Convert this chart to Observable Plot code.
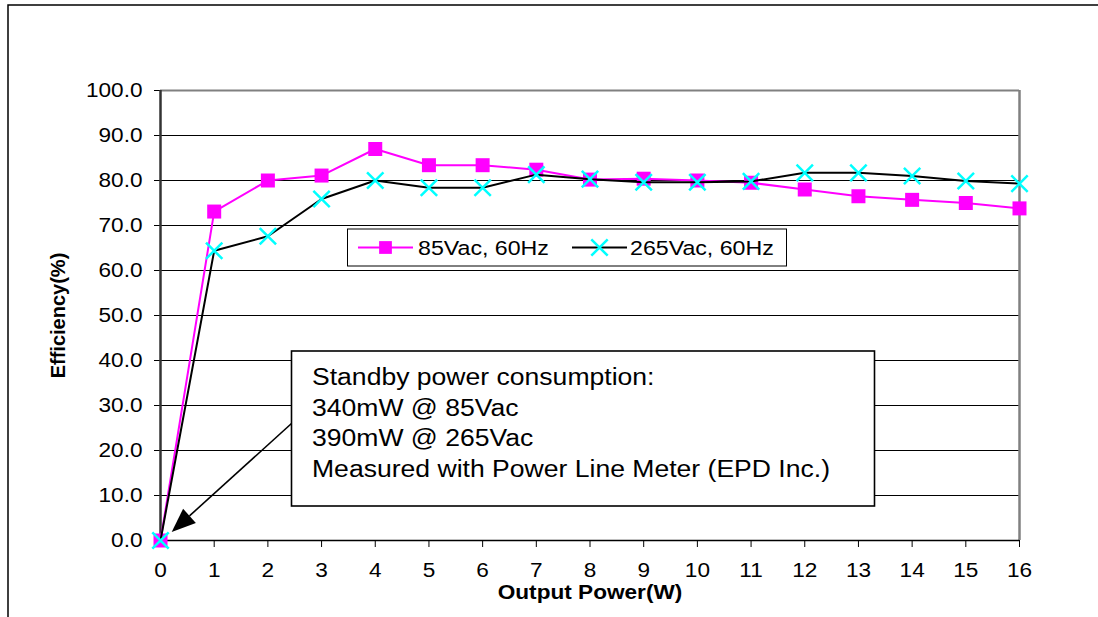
<!DOCTYPE html>
<html><head><meta charset="utf-8">
<script src="https://cdn.jsdelivr.net/npm/d3@7"></script>
<script src="https://cdn.jsdelivr.net/npm/@observablehq/plot@0.6"></script>
<style>
html,body{margin:0;padding:0;background:#fff;overflow:hidden;}
#chart{position:relative;width:1098px;height:617px;}
</style></head><body><div id="chart"></div>
<script>
// ---- data ----
const power = [0,1,2,3,4,5,6,7,8,9,10,11,12,13,14,15,16];
const eff85 = [0,73.1,80.0,81.1,87.0,83.4,83.4,82.4,80.2,80.4,80.0,79.5,78.0,76.5,75.7,75.0,73.8];
const eff265 = [0,64.4,67.6,75.9,80.0,78.4,78.4,81.3,80.3,79.6,79.6,79.8,81.7,81.7,81.0,79.9,79.3];
const yTicks = [0,10,20,30,40,50,60,70,80,90,100];
const xTicks = [0,1,2,3,4,5,6,7,8,9,10,11,12,13,14,15,16];
const seriesNames = ["85Vac, 60Hz", "265Vac, 60Hz"];
const annotationLines = ["Standby power consumption:", "340mW @ 85Vac", "390mW @ 265Vac", "Measured with Power Line Meter (EPD Inc.)"];
const xTitle = "Output Power(W)";
const yTitle = "Efficiency(%)";

const FONT = '"Liberation Sans", Arial, Helvetica, sans-serif';
const MAGENTA = "#FF00FF", CYAN = "#00FFFF";
const d85 = power.map((p, i) => ({p, e: eff85[i]}));
const d265 = power.map((p, i) => ({p, e: eff265[i]}));

const chart = Plot.plot({
  width: 1098, height: 617,
  marginLeft: 160, marginRight: 79, marginTop: 90, marginBottom: 77,
  style: {fontFamily: FONT, fontSize: "20px", color: "#000", background: "#fff", overflow: "visible"},
  x: {domain: [0, 16]},
  y: {domain: [0, 100]},
  marks: [
    Plot.ruleY(yTicks.filter(v => v > 0 && v < 100), {stroke: "#000", strokeWidth: 1}),
    Plot.ruleY([100], {stroke: "#808080", strokeWidth: 2}),
    Plot.ruleX([16], {stroke: "#808080", strokeWidth: 2.5}),
    Plot.axisY({ticks: yTicks, tickFormat: d3.format(".1f"), tickSize: 6, tickPadding: 12, label: null}),
    Plot.axisX({ticks: xTicks, tickFormat: d3.format("d"), tickSize: 7, tickPadding: 15, label: null}),
    Plot.ruleX([0], {stroke: "#333", strokeWidth: 2.5}),
    Plot.ruleY([0], {stroke: "#000", strokeWidth: 1.5}),
    Plot.line(d85, {x: "p", y: "e", stroke: MAGENTA, strokeWidth: 2}),
    Plot.dot(d85, {x: "p", y: "e", symbol: "square", r: 7.9, fill: MAGENTA, stroke: "none"}),
    Plot.line(d265, {x: "p", y: "e", stroke: "#000", strokeWidth: 2}),
    Plot.dot(d265, {x: "p", y: "e", symbol: "times", r: 7.5, stroke: CYAN, strokeWidth: 2.5}),
    Plot.text([xTitle], {frameAnchor: "bottom", lineAnchor: "middle", textAnchor: "middle", dy: 52, fontWeight: "bold", fontSize: 20}),
    Plot.text([yTitle], {frameAnchor: "left", lineAnchor: "middle", textAnchor: "middle", dx: -102, rotate: -90, fontWeight: "bold", fontSize: 20})
  ]
});
document.getElementById("chart").appendChild(chart);

const svg = d3.select(chart);
const sx = chart.scale("x"), sy = chart.scale("y");

// outer chart-area border
svg.insert("rect", ":first-child")
  .attr("x", 8).attr("y", 5).attr("width", 1300).attr("height", 800)
  .attr("fill", "none").attr("stroke", "#000").attr("stroke-width", 1.5);

// legend
const lg = svg.append("g").attr("text-anchor", "start");
const LB = {x: 347.5, y: 229, w: 439, h: 37};
lg.append("rect").attr("x", LB.x).attr("y", LB.y).attr("width", LB.w).attr("height", LB.h)
  .attr("fill", "#fff").attr("stroke", "#000").attr("stroke-width", 1);
const ly = LB.y + LB.h / 2;
const items = [
  {x0: 358, x1: 413, stroke: MAGENTA, sym: d3.symbolSquare, fill: MAGENTA, mstroke: "none", tx: 418},
  {x0: 572, x1: 627, stroke: "#000", sym: d3.symbolTimes, fill: "none", mstroke: CYAN, tx: 630}
];
items.forEach((it, i) => {
  lg.append("line").attr("x1", it.x0).attr("x2", it.x1).attr("y1", ly).attr("y2", ly)
    .attr("stroke", it.stroke).attr("stroke-width", 2);
  lg.append("path").attr("transform", `translate(${(it.x0 + it.x1) / 2},${ly})`)
    .attr("d", d3.symbol(it.sym, Math.PI * (i === 0 ? 7.2 : 7.5) ** 2)())
    .attr("fill", it.fill).attr("stroke", it.mstroke).attr("stroke-width", 2.5);
  lg.append("text").attr("x", it.tx).attr("y", ly + 7).attr("font-size", 20.5)
    .attr("text-anchor", "start")
    .attr("font-family", FONT).attr("fill", "#000").text(seriesNames[i]);
});

// annotation box
const ag = svg.append("g").attr("text-anchor", "start");
const AB = {x: 291.5, y: 351, w: 583, h: 155};
ag.append("rect").attr("x", AB.x).attr("y", AB.y).attr("width", AB.w).attr("height", AB.h)
  .attr("fill", "#fff").attr("stroke", "#000").attr("stroke-width", 1.6);
annotationLines.forEach((t, i) => {
  ag.append("text").attr("x", AB.x + 20.5).attr("y", AB.y + 34 + i * 30.6)
    .attr("text-anchor", "start")
    .attr("font-size", 23.5).attr("font-family", FONT).attr("fill", "#000").text(t);
});

// arrow from the box to the origin point
const tip = [sx.apply(0) + 11.7, sy.apply(0) - 8];
const start = [AB.x, 423.5];
const dxv = tip[0] - start[0], dyv = tip[1] - start[1];
const len = Math.hypot(dxv, dyv), ux = dxv / len, uy = dyv / len;
const headL = 24, headW = 9.5;
const base = [tip[0] - ux * headL, tip[1] - uy * headL];
ag.append("line").attr("x1", start[0]).attr("y1", start[1]).attr("x2", base[0]).attr("y2", base[1])
  .attr("stroke", "#000").attr("stroke-width", 1.6);
ag.append("path").attr("d", `M${tip[0]},${tip[1]}L${base[0] - uy * headW},${base[1] + ux * headW}L${base[0] + uy * headW},${base[1] - ux * headW}Z`)
  .attr("fill", "#000");

// horizontal stretch of text to match the reference's wide lettering
const STRETCH = 1.13;
chart.querySelectorAll("text").forEach(t => {
  const tr = t.getAttribute("transform") || "";
  if (tr.includes("rotate")) return;
  if (t.querySelector("tspan")) return;
  const L = t.getComputedTextLength();
  if (L > 0) {
    t.setAttribute("textLength", L * STRETCH);
    t.setAttribute("lengthAdjust", "spacingAndGlyphs");
  }
});
</script></body></html>
